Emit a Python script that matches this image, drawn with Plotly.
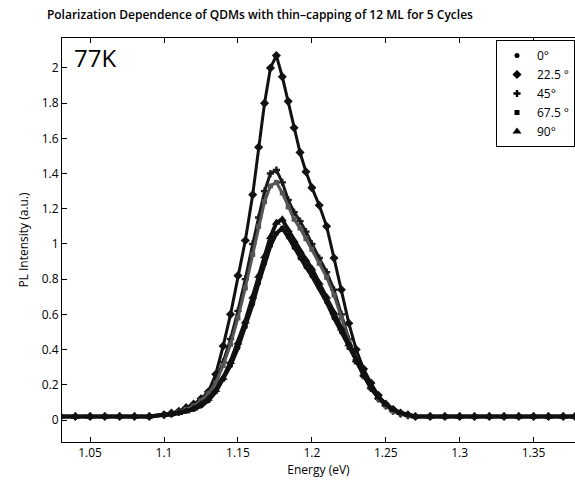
import plotly.graph_objects as go

# Photon energy grid (eV), shared by all polarization angles
energy = [1.030, 1.040, 1.050, 1.060, 1.070, 1.080, 1.090, 1.100, 1.105, 1.110,
          1.115, 1.120, 1.125, 1.130, 1.135, 1.140, 1.145, 1.150, 1.155, 1.160,
          1.164, 1.168, 1.172, 1.176, 1.180, 1.184, 1.188, 1.192, 1.196, 1.200,
          1.205, 1.210, 1.215, 1.220, 1.225, 1.230, 1.235, 1.240, 1.245, 1.250,
          1.255, 1.260, 1.265, 1.270, 1.280, 1.290, 1.300, 1.310, 1.320, 1.330,
          1.340, 1.350, 1.360, 1.370, 1.378]

# PL intensity (a.u.) for each polarization angle
pl_0 = [0.02, 0.02, 0.02, 0.02, 0.02, 0.02, 0.02, 0.03, 0.03, 0.04,
        0.05, 0.06, 0.08, 0.11, 0.16, 0.23, 0.31, 0.41, 0.53, 0.66,
        0.78, 0.89, 0.99, 1.06, 1.09, 1.04, 0.98, 0.92, 0.87, 0.82,
        0.75, 0.67, 0.58, 0.50, 0.41, 0.33, 0.25, 0.18, 0.13, 0.09,
        0.06, 0.04, 0.03, 0.02, 0.02, 0.02, 0.02, 0.02, 0.02, 0.02,
        0.02, 0.02, 0.02, 0.02, 0.02]
pl_22_5 = [0.02, 0.02, 0.02, 0.02, 0.02, 0.02, 0.02, 0.03, 0.04, 0.05,
           0.07, 0.09, 0.12, 0.16, 0.26, 0.42, 0.60, 0.82, 1.02, 1.28,
           1.55, 1.80, 2.00, 2.07, 1.95, 1.81, 1.66, 1.52, 1.41, 1.32,
           1.22, 1.10, 0.92, 0.74, 0.55, 0.40, 0.29, 0.21, 0.14, 0.09,
           0.06, 0.04, 0.03, 0.02, 0.02, 0.02, 0.02, 0.02, 0.02, 0.02,
           0.02, 0.02, 0.02, 0.02, 0.02]
pl_45 = [0.02, 0.02, 0.02, 0.02, 0.02, 0.02, 0.02, 0.03, 0.035, 0.045,
         0.06, 0.08, 0.11, 0.15, 0.22, 0.33, 0.46, 0.62, 0.80, 1.00,
         1.15, 1.30, 1.40, 1.42, 1.35, 1.25, 1.18, 1.13, 1.07, 1.00,
         0.92, 0.84, 0.74, 0.60, 0.46, 0.34, 0.25, 0.18, 0.12, 0.08,
         0.05, 0.035, 0.025, 0.02, 0.02, 0.02, 0.02, 0.02, 0.02, 0.02,
         0.02, 0.02, 0.02, 0.02, 0.02]
pl_67_5 = [0.02, 0.02, 0.02, 0.02, 0.02, 0.02, 0.02, 0.03, 0.035, 0.045,
           0.06, 0.08, 0.11, 0.15, 0.21, 0.31, 0.43, 0.58, 0.75, 0.94,
           1.10, 1.24, 1.33, 1.35, 1.29, 1.21, 1.14, 1.09, 1.03, 0.97,
           0.89, 0.81, 0.71, 0.58, 0.45, 0.33, 0.25, 0.18, 0.12, 0.08,
           0.05, 0.035, 0.025, 0.02, 0.02, 0.02, 0.02, 0.02, 0.02, 0.02,
           0.02, 0.02, 0.02, 0.02, 0.02]
pl_90 = [0.02, 0.02, 0.02, 0.02, 0.02, 0.02, 0.02, 0.03, 0.035, 0.04,
         0.05, 0.065, 0.09, 0.12, 0.17, 0.24, 0.33, 0.44, 0.56, 0.70,
         0.82, 0.93, 1.04, 1.12, 1.14, 1.08, 1.02, 0.96, 0.91, 0.86,
         0.78, 0.70, 0.61, 0.52, 0.43, 0.34, 0.26, 0.19, 0.13, 0.09,
         0.06, 0.04, 0.03, 0.02, 0.02, 0.02, 0.02, 0.02, 0.02, 0.02,
         0.02, 0.02, 0.02, 0.02, 0.02]

angle_labels = ["0°", "22.5 °", "45°", "67.5 °", "90°"]
series = [pl_0, pl_22_5, pl_45, pl_67_5, pl_90]
symbols = ["circle", "diamond", "cross", "square", "triangle-up"]
sizes = [5, 7, 6, 5, 8]
widths = [4, 3, 3, 3, 4]
colors = ["#111111", "#111111", "#1a1a1a", "#555555", "#111111"]

x_ticks = [1.05, 1.1, 1.15, 1.2, 1.25, 1.3, 1.35]
x_tick_text = ["1.05", "1.1", "1.15", "1.2", "1.25", "1.3", "1.35"]
y_ticks = [0, 0.2, 0.4, 0.6, 0.8, 1.0, 1.2, 1.4, 1.6, 1.8, 2.0]
y_tick_text = ["0", "0.2", "0.4", "0.6", "0.8", "1", "1.2", "1.4", "1.6", "1.8", "2"]

FONT = "Open Sans"

fig = go.Figure()

# spectra: the brightest curves first so the lower ones sit on top
for i in [1, 2, 3, 0, 4]:
    fig.add_trace(go.Scatter(
        x=energy, y=series[i], name=angle_labels[i], legendgroup=angle_labels[i],
        mode="lines+markers", showlegend=False,
        line=dict(color=colors[i], width=widths[i]),
        marker=dict(symbol=symbols[i], size=sizes[i], color=colors[i]),
    ))

# legend keys show only the marker symbol of each angle
for i in range(5):
    fig.add_trace(go.Scatter(
        x=[None], y=[None], name=angle_labels[i], legendgroup=angle_labels[i],
        mode="markers",
        marker=dict(symbol=symbols[i], size=sizes[i], color="black"),
    ))

fig.update_layout(
    width=575, height=480,
    margin=dict(l=62, r=0, t=38, b=38),
    paper_bgcolor="white", plot_bgcolor="white",
    font=dict(family=FONT, size=12, color="black"),
    title=dict(
        text="Polarization Dependence of QDMs with thin–capping of 12 ML for 5 Cycles",
        x=0.452, xanchor="center", xref="container",
        y=0.97, yanchor="middle", yref="container",
        font=dict(family=FONT, size=12, color="black", weight=600),
    ),
    showlegend=True,
    legend=dict(
        x=1.0, xanchor="right", y=0.995, yanchor="top",
        bordercolor="black", borderwidth=1, bgcolor="white",
        font=dict(family=FONT, size=12),
        traceorder="normal",
        itemwidth=30,
        entrywidth=68,
        tracegroupgap=0,
    ),
    annotations=[dict(
        text="77K", x=0.02, y=0.952, xref="paper", yref="paper",
        xanchor="left", yanchor="middle", showarrow=False,
        font=dict(family=FONT, size=24, color="black"),
    )],
)

fig.update_xaxes(
    range=[1.031, 1.378], tickvals=x_ticks, ticktext=x_tick_text,
    ticks="inside", ticklen=5, tickcolor="black",
    showline=True, linecolor="black", linewidth=1, mirror="ticks",
    showgrid=False, zeroline=False,
    title=dict(text="Energy (eV)", standoff=2, font=dict(family=FONT, size=12)),
)
fig.update_yaxes(
    range=[-0.125, 2.17], tickvals=y_ticks, ticktext=y_tick_text,
    ticks="inside", ticklen=5, tickcolor="black",
    showline=True, linecolor="black", linewidth=1, mirror=False,
    showgrid=False, zeroline=False,
    title=dict(text="PL Intensity (a.u.)", standoff=10, font=dict(family=FONT, size=12)),
)

fig.write_html("out.html")
